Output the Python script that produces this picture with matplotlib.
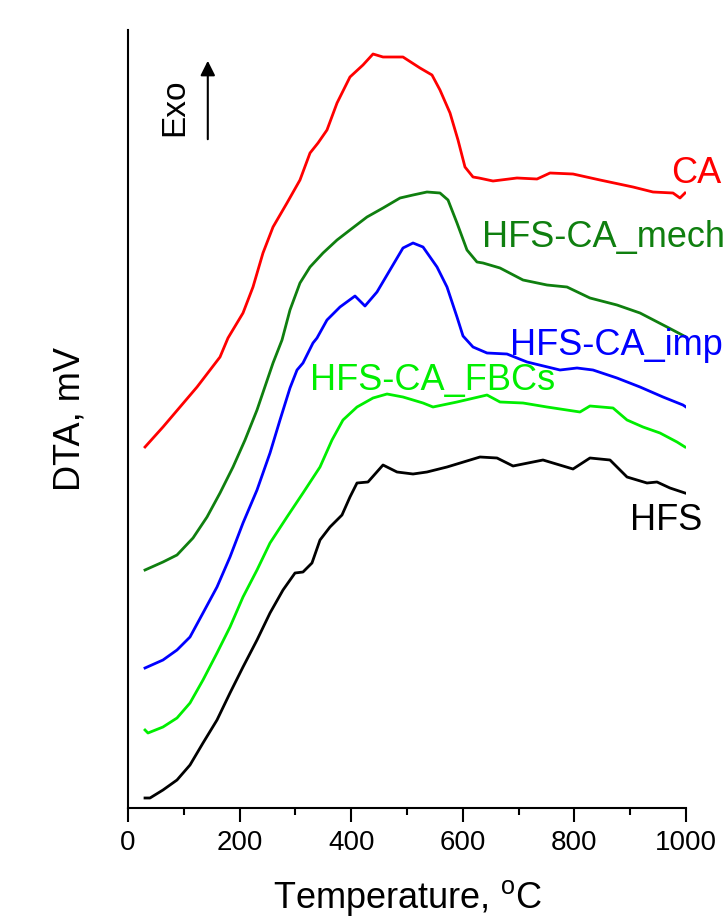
import matplotlib
matplotlib.use("Agg")
import matplotlib.pyplot as plt
from matplotlib.ticker import MultipleLocator

plt.rcParams['font.family'] = ['Liberation Sans', 'DejaVu Sans']
plt.rcParams['mathtext.fontset'] = 'custom'
plt.rcParams['mathtext.rm'] = 'Liberation Sans'

# ---- data (temperature in deg C, DTA in arbitrary offset units) ----
ca_T = [30.5, 62.7, 123.7, 164.9, 179.2, 206.1, 224.0, 241.9, 259.9, 284.9, 308.2, 326.2, 340.5,
        356.6, 374.6, 397.8, 421.1, 439.1, 457.0, 492.8, 523.3, 544.8, 559.1, 577.1, 591.4, 603.9,
        618.3, 629.0, 654.1, 697.1, 733.0, 756.3, 797.5, 845.9, 905.0, 940.9, 976.7, 989.2, 998.2]
ca_y = [36.1, 38.1, 42.1, 45.1, 47.0, 49.5, 52.1, 55.5, 58.1, 60.5, 62.8, 65.5, 66.5,
        67.8, 70.5, 73.1, 74.3, 75.4, 75.1, 75.1, 74.0, 73.3, 71.8, 69.5, 66.8, 64.1,
        63.1, 63.0, 62.7, 63.0, 62.9, 63.5, 63.4, 62.8, 62.1, 61.6, 61.5, 61.0, 61.5]

mech_T = [30.5, 62.7, 87.8, 116.5, 141.6, 164.9, 188.2, 209.7, 231.2, 259.9, 276.0, 290.3, 308.2,
          326.2, 349.5, 374.6, 397.8, 428.3, 457.0, 487.5, 510.8, 535.8, 559.1, 573.5, 589.6,
          607.5, 625.4, 636.2, 666.7, 707.9, 750.9, 786.7, 827.9, 876.3, 917.6, 966.0, 1000.0]
mech_y = [23.8, 24.6, 25.3, 27.0, 29.1, 31.5, 34.1, 36.8, 39.8, 44.5, 46.8, 49.8, 52.5,
          54.1, 55.5, 56.8, 57.8, 59.1, 60.0, 61.0, 61.3, 61.6, 61.5, 60.8, 58.5,
          55.8, 54.6, 54.5, 54.0, 52.8, 52.3, 52.1, 51.0, 50.3, 49.5, 48.1, 47.1]

imp_T = [30.5, 62.7, 87.8, 111.1, 134.4, 159.5, 182.8, 206.1, 231.2, 254.5, 272.4, 290.3, 302.9,
         313.6, 331.5, 338.7, 356.6, 379.9, 406.8, 424.7, 446.2, 469.5, 492.8, 510.8, 528.7,
         553.8, 571.7, 589.6, 600.4, 618.3, 643.4, 679.2, 715.1, 774.2, 804.7, 833.3, 876.3,
         917.6, 958.8, 994.6, 1000.0]
imp_y = [14.0, 14.8, 15.8, 17.1, 19.5, 22.1, 25.1, 28.5, 31.8, 35.5, 38.8, 42.0, 43.8,
         44.5, 46.5, 47.0, 48.8, 50.1, 51.2, 50.2, 51.6, 53.8, 56.0, 56.5, 56.1,
         54.1, 52.1, 49.1, 47.2, 46.1, 45.5, 45.4, 44.6, 43.8, 44.0, 43.8, 43.0,
         42.1, 41.1, 40.3, 40.1]

fbc_T = [30.5, 35.8, 62.7, 87.8, 111.1, 134.4, 159.5, 182.8, 206.1, 231.2, 254.5, 284.9, 313.6,
         344.1, 365.6, 385.3, 410.4, 439.1, 464.2, 492.8, 528.7, 546.6, 589.6, 643.4, 666.7,
         707.9, 750.9, 810.0, 827.9, 869.2, 894.3, 922.9, 953.4, 983.9, 998.2]
fbc_y = [7.8, 7.5, 8.1, 9.0, 10.5, 12.8, 15.5, 18.1, 21.1, 23.8, 26.5, 29.1, 31.5,
         34.1, 36.8, 38.8, 40.1, 41.0, 41.4, 41.1, 40.5, 40.1, 40.6, 41.3, 40.6,
         40.5, 40.1, 39.6, 40.2, 40.0, 38.8, 38.1, 37.5, 36.6, 36.1]

hfs_T = [30.5, 39.4, 62.7, 87.8, 111.1, 134.4, 159.5, 182.8, 206.1, 231.2, 254.5, 277.8, 299.3,
         313.6, 329.7, 344.1, 362.0, 383.5, 397.8, 410.4, 430.1, 457.0, 482.1, 510.8, 535.8,
         571.7, 630.8, 661.3, 690.0, 743.7, 797.5, 827.9, 863.8, 894.3, 930.1, 948.0, 971.3, 998.2]
hfs_y = [1.0, 1.0, 1.8, 2.8, 4.3, 6.5, 8.8, 11.5, 14.1, 16.8, 19.5, 21.8, 23.5,
         23.6, 24.5, 26.8, 28.1, 29.3, 31.1, 32.5, 32.6, 34.3, 33.6, 33.4, 33.6,
         34.1, 35.1, 35.0, 34.2, 34.8, 33.9, 35.0, 34.8, 33.1, 32.5, 32.6, 32.0, 31.5]

series_names = ['CA', 'HFS-CA_mech', 'HFS-CA_imp', 'HFS-CA_FBCs', 'HFS']
series_colors = ['#ff0000', '#0f7f0f', '#0000ff', '#00ee00', '#000000']
x_ticks = [0, 200, 400, 600, 800, 1000]

fig = plt.figure(figsize=(7.28, 9.18), dpi=100)
ax = fig.add_axes([128/728, 1-808/918, (686-128)/728, (808-30)/918])

data = [(ca_T, ca_y), (mech_T, mech_y), (imp_T, imp_y), (fbc_T, fbc_y), (hfs_T, hfs_y)]
for (T, y), c in zip(data, series_colors):
    ax.plot(T, y, color=c, lw=2.0, solid_joinstyle='round')

ax.set_xlim(0, 1000)
ax.set_ylim(0, 77.8)
ax.spines['top'].set_visible(False)
ax.spines['right'].set_visible(False)
ax.spines['left'].set_linewidth(1.5)
ax.spines['bottom'].set_linewidth(1.5)
ax.set_yticks([])
ax.set_xticks(x_ticks)
ax.xaxis.set_minor_locator(MultipleLocator(100))
ax.tick_params(axis='x', which='major', length=10, width=1.5, labelsize=20, pad=6, direction='out')
ax.tick_params(axis='x', which='minor', length=5, width=1.5, direction='out')
ax.set_xlabel('Temperature, $^\\mathregular{o}$C', fontsize=26, labelpad=16)
ax.set_ylabel('DTA, mV', fontsize=26, labelpad=29)

fs = 26
ax.text(1064, 62.5, series_names[0], color=series_colors[0], fontsize=fs, ha='right', va='baseline', clip_on=False)
ax.text(1070, 56.1, series_names[1], color=series_colors[1], fontsize=fs, ha='right', va='baseline', clip_on=False)
ax.text(1066, 45.3, series_names[2], color=series_colors[2], fontsize=fs, ha='right', va='baseline', clip_on=False)
ax.text(326, 41.8, series_names[3], color=series_colors[3], fontsize=fs, ha='left', va='baseline', clip_on=False)
ax.text(1030, 27.8, series_names[4], color=series_colors[4], fontsize=fs, ha='right', va='baseline', clip_on=False)

# Exo arrow
ax.annotate('', xy=(143, 75.0), xytext=(143, 66.6),
            arrowprops=dict(arrowstyle='-|>', color='black', lw=1.5, mutation_scale=22))
ax.text(83, 70.1, 'Exo', rotation=90, fontsize=24, ha='center', va='center')

fig.savefig('out.png', dpi=100)
